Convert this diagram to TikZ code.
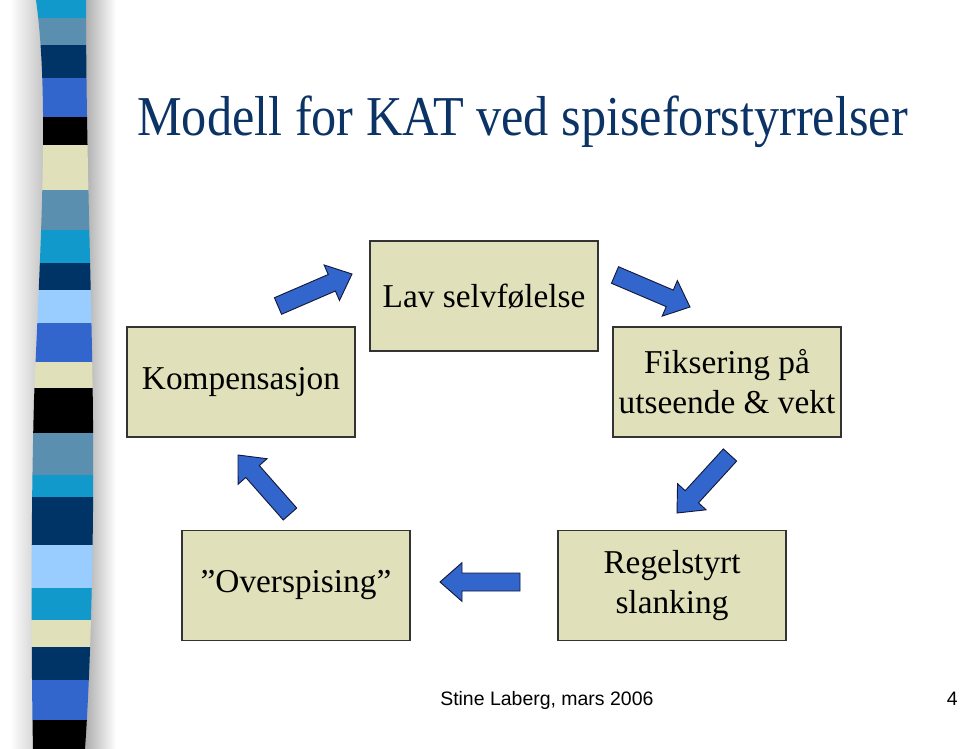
\documentclass[tikz,border=0pt]{standalone}
\usepackage{fontspec}
\setmainfont{Liberation Serif}
\setsansfont{Liberation Sans}
\usepackage{tikz}
\usetikzlibrary{positioning, calc}
\definecolor{titlenavy}{RGB}{11,51,102}
\definecolor{boxfill}{RGB}{224,224,186}
\definecolor{boxline}{RGB}{51,51,51}
\definecolor{arrowblue}{RGB}{51,102,204}
\definecolor{arrowline}{RGB}{20,25,60}
\definecolor{stripecyan}{RGB}{17,153,204}
\definecolor{stripesteel}{RGB}{91,143,176}
\definecolor{stripenavy}{RGB}{0,51,102}
\definecolor{stripeblue}{RGB}{51,102,204}
\definecolor{stripelight}{RGB}{153,204,255}
\tikzstyle{box} = [rectangle, draw=boxline, fill=boxfill, line width=0.8pt, minimum width=171pt, minimum height=82.5pt, align=center, font=\fontsize{25}{30}\selectfont]
\tikzstyle{fatarrow} = [draw=arrowline, fill=arrowblue, line width=0.7pt, line join=miter]
\newcommand{\shaft}{6.75pt}
\newcommand{\headw}{14.5pt}
\newcommand{\headlen}{16.5pt}
% block arrow from tail coordinate #1 to tip coordinate #2
\newcommand{\blockarrow}[2]{%
  \coordinate (neck) at ($(#2)!\headlen!(#1)$);
  \draw[fatarrow] ($(#1)!\shaft!90:(#2)$) -- ($(neck)!\shaft!90:(#2)$) -- ($(neck)!\headw!90:(#2)$)
    -- (#2) -- ($(neck)!\headw!-90:(#2)$) -- ($(neck)!\shaft!-90:(#2)$) -- ($(#1)!\shaft!-90:(#2)$) -- cycle;
}

\begin{document}
\begin{tikzpicture}[x=0.75pt, y=-0.75pt, node distance=64.5pt]
    \useasboundingbox (0,0) rectangle (960,749);

    % side bar with its shadow
    \shade[left color=white, right color=gray!55] (10,0) rectangle (50,749);
    \shade[left color=gray!75, right color=white] (80,0) rectangle (116,749);
    \begin{scope}
        \clip (36,0) .. controls (50,100) and (40,250) .. (34,400) .. controls (30,550) and (32,700) .. (33,749)
            -- (85,749) .. controls (92,650) and (94,500) .. (93,420) .. controls (92,300) and (86,150) .. (86,0) -- cycle;
        \foreach \ya/\yb/\col in {0/18/stripecyan, 18/45/stripesteel, 45/78/stripenavy, 78/117/stripeblue,
                117/145/black, 145/190/boxfill, 190/230/stripesteel, 230/263/stripecyan, 263/290/stripenavy,
                290/323/stripelight, 323/362/stripeblue, 362/388/boxfill, 388/433/black, 433/475/stripesteel,
                475/497/stripecyan, 497/545/stripenavy, 545/588/stripelight, 588/620/stripecyan, 620/647/boxfill,
                647/680/stripenavy, 680/720/stripeblue, 720/749/black}
            \fill[\col] (20,\ya) rectangle (110,\yb);
    \end{scope}

    % title and footer
    \node (title) [anchor=base west, inner sep=0pt, text=titlenavy, font=\fontsize{37.7}{44}\selectfont] at (137,135) {\scalebox{1}[1.12]{Modell for KAT ved spiseforstyrrelser}};
    \node (footer) [anchor=base west, inner sep=0pt, font=\sffamily\fontsize{14.6}{17}\selectfont] at (440,705) {Stine Laberg, mars 2006};
    \node (page) [anchor=base east, inner sep=0pt, font=\sffamily\fontsize{14.6}{17}\selectfont] at (958,705) {4};

    % boxes
    \node (lav) [box] at (484,296) {Lav selvfølelse};
    \node (komp) [box, below of=lav, xshift=-182.25pt] {Kompensasjon};
    \node (fiks) [box, below of=lav, xshift=182.25pt] {Fiksering på\\utseende \& vekt};
    \node (over) [box, below of=komp, yshift=-88.1pt, xshift=41.25pt] {”Overspising”};
    \node (regel) [box, below of=fiks, yshift=-88.1pt, xshift=-41.25pt] {Regelstyrt\\slanking};

    % arrows round the cycle
    \coordinate (komp-out) at (278,306);
    \coordinate (lav-in) at (352,274);
    \coordinate (lav-out) at (615,275);
    \coordinate (fiks-in) at (690,307);
    \coordinate (fiks-out) at (730,455);
    \coordinate (regel-in) at (677,513);
    \coordinate (regel-out) at (520,582);
    \coordinate (over-in) at (440,582);
    \coordinate (over-out) at (290,514);
    \coordinate (komp-in) at (238,455);
    \blockarrow{komp-out}{lav-in}
    \blockarrow{lav-out}{fiks-in}
    \blockarrow{fiks-out}{regel-in}
    \blockarrow{regel-out}{over-in}
    \blockarrow{over-out}{komp-in}
\end{tikzpicture}
\end{document}
